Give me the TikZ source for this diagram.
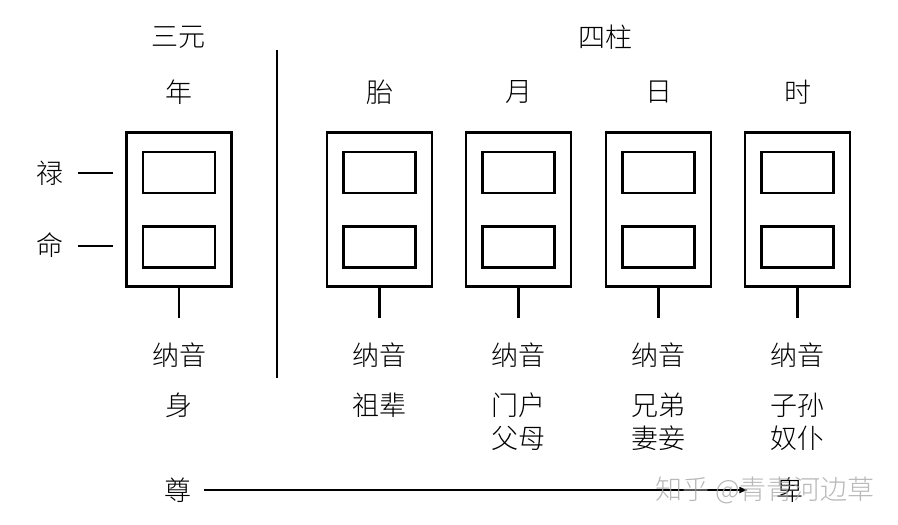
\documentclass[tikz,border=0pt]{standalone}
\usepackage{fontspec}
\setmainfont{Noto Sans CJK SC}[UprightFont={* Light}]
\usetikzlibrary{arrows.meta}
\tikzset{
  lbl/.style={font=\fontsize{27}{30}\selectfont, inner sep=0pt, anchor=center},
  outerbox/.style={draw, line width=2.4pt, minimum width=105pt, minimum height=154pt, inner sep=0pt},
  innerbox/.style={draw, line width=2.4pt, minimum width=72pt, minimum height=41pt, inner sep=0pt},
  conn/.style={line width=2.2pt},
  wm/.style={font=\fontsize{27}{29}\selectfont, text=black!35, inner sep=0pt, opacity=0.8}
}
\begin{document}
\begin{tikzpicture}[x=1pt,y=-1pt]
\useasboundingbox (0,0) rectangle (898,525);
% headings
\node[lbl] (sanyuan) at (178,37) {三元};
\node[lbl] (sizhu) at (605,37) {四柱};
\coordinate (divtop) at (277,50);
\coordinate (divbot) at (277,378);
\draw[line width=2.6pt] (divtop) -- (divbot);
% columns
\foreach \name/\x/\top/\a/\b in {nian/179/年/身/{}, tai/379.5/胎/祖辈/{}, yue/518.5/月/门户/父母, ri/658.5/日/兄弟/妻妾, shi/797.5/时/子孙/奴仆}{
  \node[lbl] (\name-t) at (\x,92) {\top};
  \node[outerbox] (\name-box) at (\x,209.5) {};
  \node[innerbox] (\name-in1) at (\x,172.5) {};
  \node[innerbox] (\name-in2) at (\x,247) {};
  \coordinate (\name-stem) at (\x,318);
  \draw[conn] (\name-box.south) -- (\name-stem);
  \node[lbl] (\name-ny) at (\x,355) {纳音};
  \node[lbl] (\name-a) at (\x,405) {\a};
  \node[lbl] (\name-b) at (\x,438) {\b};
}
% left labels
\node[lbl] (lu) at (50,173) {禄};
\node[lbl] (ming) at (50,245) {命};
\coordinate (lu-s) at (78,173);
\coordinate (lu-e) at (113,173);
\coordinate (ming-s) at (78,246);
\coordinate (ming-e) at (113,246);
\draw[conn] (lu-s) -- (lu-e);
\draw[conn] (ming-s) -- (ming-e);
% bottom
\node[lbl] (zun) at (178,490) {尊};
\node[lbl] (bei) at (790,490) {卑};
\draw[line width=1.6pt, -{Latex[length=9pt,width=7pt]}] ([xshift=12pt]zun.east) -- ([xshift=-28pt]bei.west);
% watermark
\node[wm, anchor=west] (wmark) at (655,490) {知乎 @青青河边草};
\end{tikzpicture}
\end{document}
